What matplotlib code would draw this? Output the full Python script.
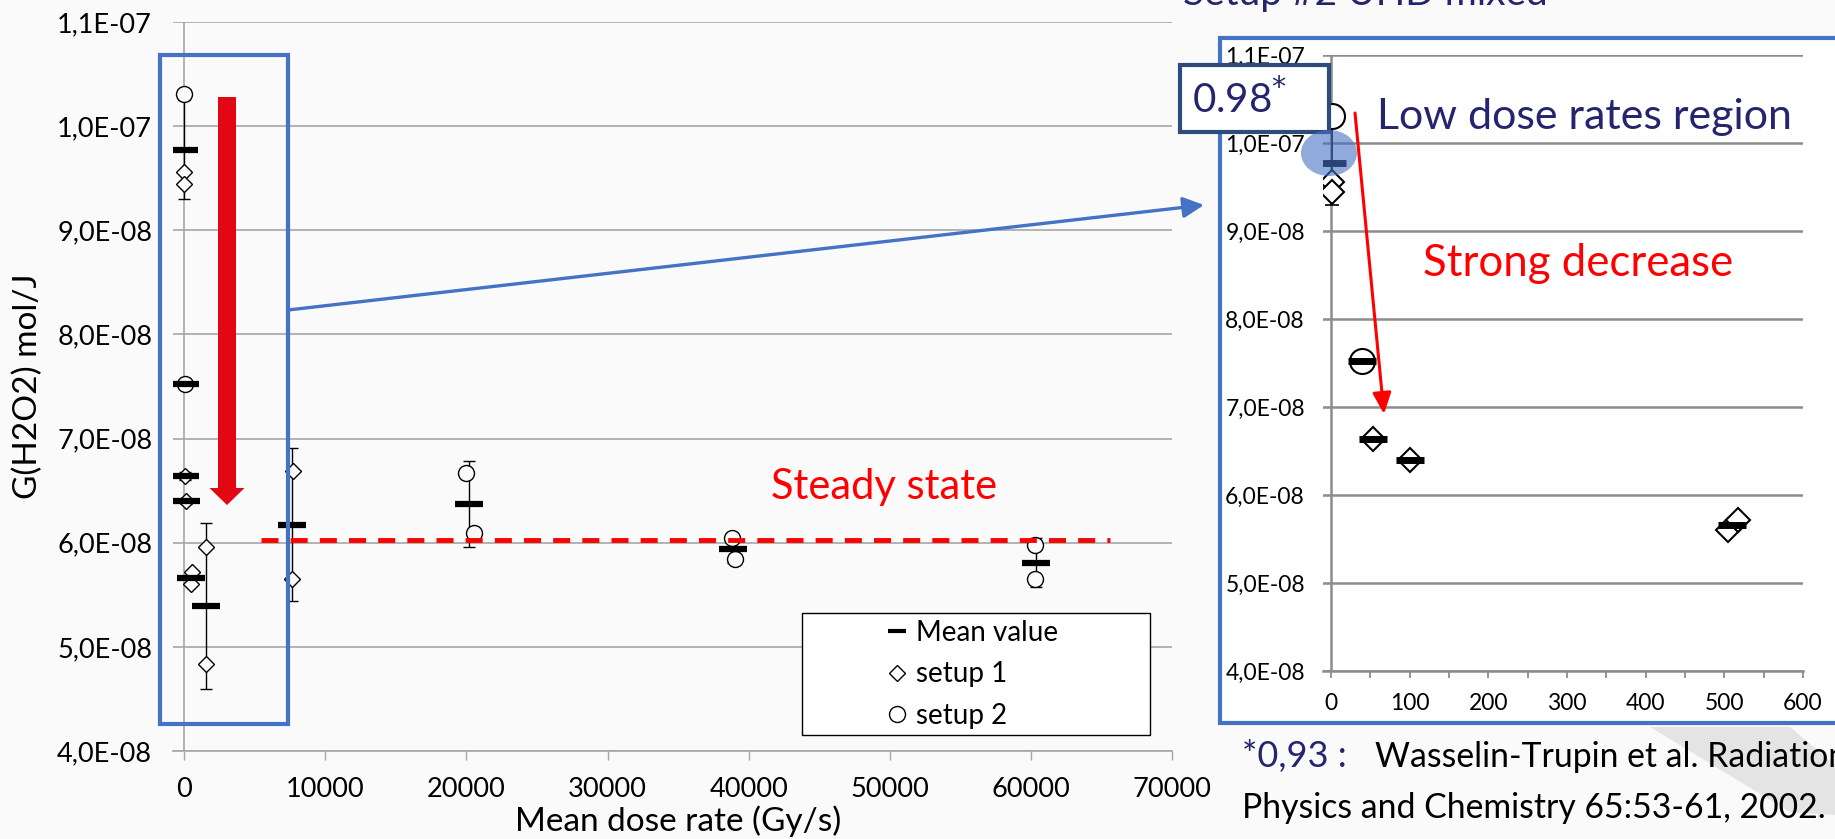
import numpy as np
import matplotlib
matplotlib.use("Agg")
import matplotlib.pyplot as plt
from matplotlib import patches, transforms
from matplotlib.lines import Line2D
from matplotlib.ticker import FuncFormatter, MultipleLocator

# mean G(H2O2) per dose-rate group, with error bar ends
dose_mean = [2, 40, 54, 100, 510, 1560, 7660, 20200, 38870, 60350]
g_mean = [9.77e-8, 7.52e-8, 6.64e-8, 6.40e-8, 5.66e-8, 5.39e-8, 6.17e-8, 6.37e-8, 5.94e-8, 5.81e-8]
g_low = [9.30e-8, 7.48e-8, 6.60e-8, 6.37e-8, 5.60e-8, 4.60e-8, 5.44e-8, 5.96e-8, 5.81e-8, 5.57e-8]
g_high = [1.025e-7, 7.56e-8, 6.68e-8, 6.43e-8, 5.72e-8, 6.19e-8, 6.91e-8, 6.78e-8, 6.05e-8, 6.05e-8]

setup1_dose = [2, 2, 54, 100, 505, 517, 1560, 1560, 7700, 7600]
setup1_g = [9.56e-8, 9.44e-8, 6.64e-8, 6.40e-8, 5.60e-8, 5.72e-8, 5.96e-8, 4.84e-8, 6.69e-8, 5.65e-8]

setup2_dose = [2, 40, 19930, 20500, 38800, 39000, 60300, 60300]
setup2_g = [1.031e-7, 7.52e-8, 6.67e-8, 6.09e-8, 6.05e-8, 5.84e-8, 5.98e-8, 5.65e-8]

steady_g = 6.03e-8
steady_x = [5460, 65600]

main_xticks = [0, 10000, 20000, 30000, 40000, 50000, 60000, 70000]
inset_xticks = [0, 100, 200, 300, 400, 500, 600]
y_ticks = [4e-8, 5e-8, 6e-8, 7e-8, 8e-8, 9e-8, 1.0e-7, 1.1e-7]

NAVY = "#25256E"
BLUE = "#4472C4"
RED = "#E30613"
BG = "#FAFAFA"

plt.rcParams["font.family"] = ["Lato", "DejaVu Sans"]

W, H = 1835, 839
fig = plt.figure(figsize=(W / 100, H / 100), dpi=100, facecolor=BG)
# pixel coords measured from the top-left corner
pxT = transforms.Affine2D().scale(1 / W, -1 / H).translate(0, 1) + fig.transFigure


def rect(l, t, r, b):
    return [l / W, 1 - b / H, (r - l) / W, (b - t) / H]


def sci_comma(v, pos):
    return f"{v:.1E}".replace(".", ",")


def draw_points(ax, lim, bar_ms, bar_mew, dia_ms, circ_ms, face, elw, cap, mew):
    d = np.array(dose_mean)
    m = d <= lim
    g = np.array(g_mean)
    lo = g - np.array(g_low)
    hi = np.array(g_high) - g
    ax.errorbar(d[m], g[m], yerr=[lo[m], hi[m]], fmt="none", ecolor="black",
                elinewidth=elw, capsize=cap, capthick=elw, zorder=3)
    s1d, s1g = np.array(setup1_dose), np.array(setup1_g)
    m1 = s1d <= lim
    ax.plot(s1d[m1], s1g[m1], ls="none", marker="D", ms=dia_ms, mfc=face,
            mec="black", mew=mew, zorder=4)
    s2d, s2g = np.array(setup2_dose), np.array(setup2_g)
    m2 = s2d <= lim
    ax.plot(s2d[m2], s2g[m2], ls="none", marker="o", ms=circ_ms, mfc=face,
            mec="black", mew=mew, zorder=4)
    ax.plot(d[m], g[m], ls="none", marker="_", ms=bar_ms, mew=bar_mew,
            color="black", zorder=5)


# ---- main chart
ax = fig.add_axes(rect(173, 22, 1172, 751))
ax.set_facecolor("none")
ax.set_xlim(-800, 70000)
ax.set_ylim(4e-8, 1.1e-7)
for s in ["top", "right", "left"]:
    ax.spines[s].set_visible(False)
ax.spines["bottom"].set_color("#A6A6A6")
ax.spines["bottom"].set_linewidth(1.2)
ax.set_yticks(y_ticks)
ax.yaxis.set_major_formatter(FuncFormatter(sci_comma))
ax.set_xticks(main_xticks)
ax.grid(axis="y", color="#A6A6A6", lw=1.2, zorder=0)
ax.axvline(0, color="#A6A6A6", lw=1.2, zorder=0)
ax.tick_params(axis="y", length=0, pad=15, labelsize=19.5)
ax.tick_params(axis="x", length=6.5, width=1, color="#A6A6A6", pad=12, labelsize=19.5)
draw_points(ax, 1e9, 20, 4.5, 7.9, 11.5, BG, 1.0, 4.3, 1.0)
ax.plot(steady_x, [steady_g, steady_g], color="#FF0000", lw=3.5, dashes=(3.5, 2.5), zorder=6)

fig.text(28 / W, 1 - 386 / H, "G(H2O2) mol/J", rotation=90, ha="center", va="center", fontsize=24)
fig.text(678 / W, 1 - 821 / H, "Mean dose rate (Gy/s)", ha="center", va="center", fontsize=24)
fig.text(884 / W, 1 - 487 / H, "Steady state", ha="center", va="center", fontsize=30, color="#FF0000")

# legend
fig.add_artist(patches.Rectangle((802, 613), 348, 122, transform=pxT, facecolor="white",
                                 edgecolor="black", lw=1.0, zorder=1))
handles = [
    Line2D([], [], ls="none", marker="_", ms=13.5, mew=3, color="black"),
    Line2D([], [], ls="none", marker="D", ms=8, mfc="white", mec="black", mew=1),
    Line2D([], [], ls="none", marker="o", ms=11.5, mfc="white", mec="black", mew=1),
]
fig.legend(handles, ["Mean value", "setup 1", "setup 2"], loc="upper left",
           bbox_to_anchor=(883 / W, 1 - 620 / H), frameon=False, fontsize=20,
           handlelength=1.0, handletextpad=0.2, borderpad=0, labelspacing=0.55,
           borderaxespad=0)

# annotation shapes on main chart
fig.add_artist(patches.Rectangle((160, 55), 128, 669, transform=pxT, fill=False,
                                 edgecolor=BLUE, lw=3, zorder=2))
fig.add_artist(patches.FancyArrow(227, 97, 0, 408, width=18, head_width=35, head_length=17,
                                  length_includes_head=True, transform=pxT, color=RED,
                                  lw=0, zorder=2))
fig.add_artist(patches.FancyArrowPatch((288, 310), (1204, 205), transform=pxT,
                                       arrowstyle="-|>,head_length=0.7,head_width=0.35",
                                       mutation_scale=18, lw=2.4, color=BLUE,
                                       shrinkA=0, shrinkB=0, zorder=2))

# ---- inset
fig.add_artist(patches.Rectangle((1220, 38), 640, 685, transform=pxT, facecolor="white",
                                 edgecolor=BLUE, lw=3, zorder=-1))
ax2 = fig.add_axes(rect(1323, 55, 1803, 671))
ax2.set_facecolor("white")
ax2.set_xlim(-10, 600)
ax2.set_ylim(4e-8, 1.1e-7)
for s in ["top", "right", "left"]:
    ax2.spines[s].set_visible(False)
ax2.spines["bottom"].set_color("#8C8C8C")
ax2.spines["bottom"].set_linewidth(1.8)
ax2.set_yticks(y_ticks)
ax2.yaxis.set_major_formatter(FuncFormatter(sci_comma))
ax2.set_xticks(inset_xticks)
ax2.xaxis.set_minor_locator(MultipleLocator(50))
ax2.grid(axis="y", color="#8C8C8C", lw=1.8, zorder=0)
ax2.axvline(0, color="#8C8C8C", lw=1.8, zorder=0)
ax2.tick_params(axis="y", length=0, pad=13, labelsize=16.5)
ax2.tick_params(axis="x", which="both", length=5, width=1.3, color="#8C8C8C", pad=11, labelsize=16.5)
draw_points(ax2, 600, 19.5, 5, 12.5, 18, "white", 1.2, 5, 1.5)

fig.add_artist(patches.Rectangle((1180, 65), 149, 67, transform=pxT, facecolor="white",
                                 edgecolor="#2F4B7C", lw=3, zorder=3))
fig.text(1240 / W, 1 - 99 / H, r"0.98$^{*}$", ha="center", va="center", fontsize=29, color=NAVY, zorder=4)
fig.add_artist(patches.Ellipse((1329, 153), 56, 46, transform=pxT, facecolor=BLUE,
                               alpha=0.6, lw=0, zorder=3))
fig.add_artist(patches.FancyArrowPatch((1355, 113), (1384, 414), transform=pxT,
                                       arrowstyle="-|>,head_length=0.8,head_width=0.35",
                                       mutation_scale=16, lw=2.2, color="#FF0000",
                                       shrinkA=0, shrinkB=0, zorder=3))
fig.text(1377 / W, 1 - 117 / H, "Low dose rates region", ha="left", va="center", fontsize=31, color=NAVY)
fig.text(1423 / W, 1 - 263 / H, "Strong decrease", ha="left", va="center", fontsize=31.5, color="#FF0000")
fig.text(1183 / W, 1 - 5 / H, "Setup #2 UHD mixed", ha="left", va="baseline", fontsize=28, color=NAVY)

# footnote and faint slide decoration
fig.add_artist(patches.Polygon([(1650, 727), (1790, 727), (1835, 765), (1835, 815), (1790, 812)],
                               closed=True, transform=pxT, facecolor="#E4E4E4", lw=0, zorder=-2))
fig.text(1242 / W, 1 - 757 / H, "*0,93 :", ha="left", va="center", fontsize=26, color=NAVY)
fig.text(1375 / W, 1 - 757 / H, "Wasselin-Trupin et al. Radiation", ha="left", va="center", fontsize=24.3)
fig.text(1242 / W, 1 - 808 / H, "Physics and Chemistry 65:53-61, 2002.", ha="left", va="center", fontsize=24.3)

fig.savefig("out.png", dpi=100, facecolor=BG)
